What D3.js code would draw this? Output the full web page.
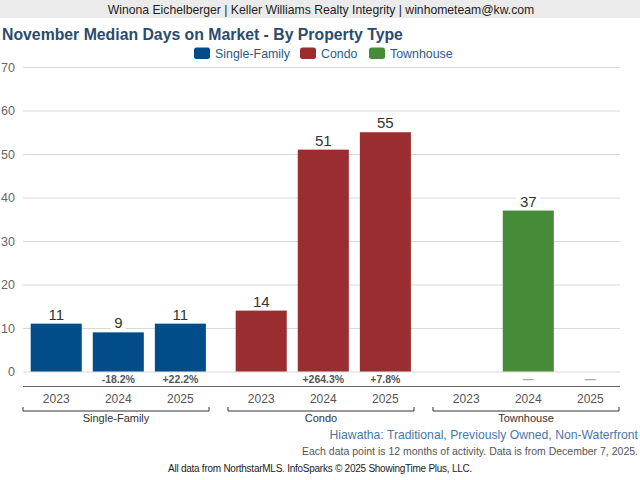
<!DOCTYPE html>
<html>
<head>
<meta charset="utf-8">
<script src="https://cdn.jsdelivr.net/npm/d3@7"></script>
<style>
  body { margin: 0; background: #fff; }
  svg { display: block; font-family: "Liberation Sans", Arial, sans-serif; }
</style>
</head>
<body>
<div id="chart"></div>
<script>
// chart data
const groups = ['Single-Family', 'Condo', 'Townhouse'];
const years = ['2023', '2024', '2025'];
const singleFamily = [11, 9, 11];
const condo = [14, 51, 55];
const townhouse = [null, 37, null];
const singleFamilyChange = ['', '-18.2%', '+22.2%'];
const condoChange = ['', '+264.3%', '+7.8%'];
const townhouseChange = ['', '—', '—'];
const yTicks = [0, 10, 20, 30, 40, 50, 60, 70];
const colors = ['#024c8a', '#9a2d30', '#468b37'];

const seriesValues = [singleFamily, condo, townhouse];
const seriesChange = [singleFamilyChange, condoChange, townhouseChange];

const width = 640, height = 480;
const svg = d3.select('#chart').append('svg')
    .attr('width', width)
    .attr('height', height);

// header band
svg.append('rect')
    .attr('x', 0).attr('y', 0)
    .attr('width', width).attr('height', 18)
    .attr('fill', '#ebebeb');
svg.append('text')
    .attr('x', 321).attr('y', 14)
    .attr('text-anchor', 'middle')
    .attr('font-size', 12.2)
    .attr('fill', '#222')
    .text('Winona Eichelberger | Keller Williams Realty Integrity | winhometeam@kw.com');

// title
svg.append('text')
    .attr('x', 2).attr('y', 40)
    .attr('font-size', 15.8)
    .attr('font-weight', 'bold')
    .attr('fill', '#2a4b6e')
    .text('November Median Days on Market - By Property Type');

// legend
const legendX = [194, 300, 369];
const legend = svg.append('g');
groups.forEach(function(g, i) {
    legend.append('rect')
        .attr('x', legendX[i]).attr('y', 47.5)
        .attr('width', 16).attr('height', 11.5)
        .attr('rx', 2.5)
        .attr('fill', colors[i]);
    legend.append('text')
        .attr('x', legendX[i] + 21).attr('y', 57.5)
        .attr('font-size', 12.4)
        .attr('fill', '#2d5a88')
        .text(g);
});

// scales
const y = d3.scaleLinear()
    .domain([0, 70])
    .range([371.5, 67]);

const x0 = d3.scaleBand()
    .domain(groups)
    .range([15.8, 630.8]);

const x1 = d3.scaleBand()
    .domain(years)
    .range([0, x0.bandwidth()])
    .paddingInner(11 / 62)
    .paddingOuter(0.24);

const plotLeft = 23, plotRight = 620;

// gridlines and y tick labels
const yAxis = svg.append('g')
    .attr('transform', 'translate(' + plotLeft + ',0)')
    .call(d3.axisLeft(y).tickValues(yTicks).tickSize(-(plotRight - plotLeft)).tickPadding(8));
yAxis.select('.domain').remove();
yAxis.selectAll('.tick line').attr('stroke', '#d9d9d9');
yAxis.selectAll('.tick text')
    .attr('font-size', 12.5)
    .attr('fill', '#666')
    .attr('font-family', '"Liberation Sans", Arial, sans-serif');

// bars
const groupG = svg.selectAll('.grp')
    .data(groups)
    .enter().append('g')
    .attr('class', 'grp')
    .attr('transform', d => 'translate(' + x0(d) + ',0)');

groupG.each(function(g, gi) {
    const sel = d3.select(this);
    const rows = years.map((yr, i) => ({ year: yr, value: seriesValues[gi][i], change: seriesChange[gi][i] }));

    sel.selectAll('rect.bar')
        .data(rows.filter(d => d.value !== null))
        .enter().append('rect')
        .attr('class', 'bar')
        .attr('x', d => x1(d.year))
        .attr('y', d => y(d.value))
        .attr('width', x1.bandwidth())
        .attr('height', d => y(0) - y(d.value))
        .attr('fill', colors[gi]);

    // value labels with white box
    const lab = sel.selectAll('g.vlab')
        .data(rows.filter(d => d.value !== null))
        .enter().append('g')
        .attr('class', 'vlab')
        .attr('transform', d => 'translate(' + (x1(d.year) + x1.bandwidth() / 2) + ',' + (y(d.value) - 4) + ')');
    lab.append('rect')
        .attr('x', d => -String(d.value).length * 4.5 - 3)
        .attr('y', -13)
        .attr('width', d => String(d.value).length * 9 + 6)
        .attr('height', 14)
        .attr('fill', '#fff');
    lab.append('text')
        .attr('text-anchor', 'middle')
        .attr('font-size', 15)
        .attr('fill', '#333')
        .text(d => d.value);

    // percent change labels
    sel.selectAll('text.chg')
        .data(rows.filter(d => d.change !== ''))
        .enter().append('text')
        .attr('class', 'chg')
        .attr('x', d => x1(d.year) + x1.bandwidth() / 2)
        .attr('y', 383)
        .attr('text-anchor', 'middle')
        .attr('font-size', d => d.change === '—' ? 11 : 10.5)
        .attr('font-weight', 'bold')
        .attr('fill', d => d.change === '—' ? '#aaa' : '#555')
        .text(d => d.change);

    // year labels
    sel.selectAll('text.yr')
        .data(years)
        .enter().append('text')
        .attr('class', 'yr')
        .attr('x', d => x1(d) + x1.bandwidth() / 2)
        .attr('y', 403)
        .attr('text-anchor', 'middle')
        .attr('font-size', 12)
        .attr('fill', '#555')
        .text(d => d);

    // group bracket
    const bl = 7.2, br = x0.bandwidth() - 11.8;
    sel.append('path')
        .attr('d', 'M' + bl + ',407V411H' + br + 'V407')
        .attr('fill', 'none')
        .attr('stroke', '#333')
        .attr('stroke-width', 1);
    sel.append('text')
        .attr('x', (bl + br) / 2)
        .attr('y', 422)
        .attr('text-anchor', 'middle')
        .attr('font-size', 11)
        .attr('fill', '#333')
        .text(g);
});

// category axis line
svg.append('line')
    .attr('x1', plotLeft).attr('x2', plotRight)
    .attr('y1', 386.5).attr('y2', 386.5)
    .attr('stroke', '#666');

// footer
svg.append('text')
    .attr('x', 638).attr('y', 439)
    .attr('text-anchor', 'end')
    .attr('font-size', 12.2)
    .attr('fill', '#4a77a6')
    .text('Hiawatha: Traditional, Previously Owned, Non-Waterfront');
svg.append('text')
    .attr('x', 638).attr('y', 455)
    .attr('text-anchor', 'end')
    .attr('font-size', 10.5)
    .attr('fill', '#555')
    .text('Each data point is 12 months of activity. Data is from December 7, 2025.');
svg.append('text')
    .attr('x', 320).attr('y', 472)
    .attr('text-anchor', 'middle')
    .attr('font-size', 10)
    .attr('letter-spacing', -0.25)
    .attr('fill', '#222')
    .text('All data from NorthstarMLS. InfoSparks © 2025 ShowingTime Plus, LLC.');
</script>
</body>
</html>
